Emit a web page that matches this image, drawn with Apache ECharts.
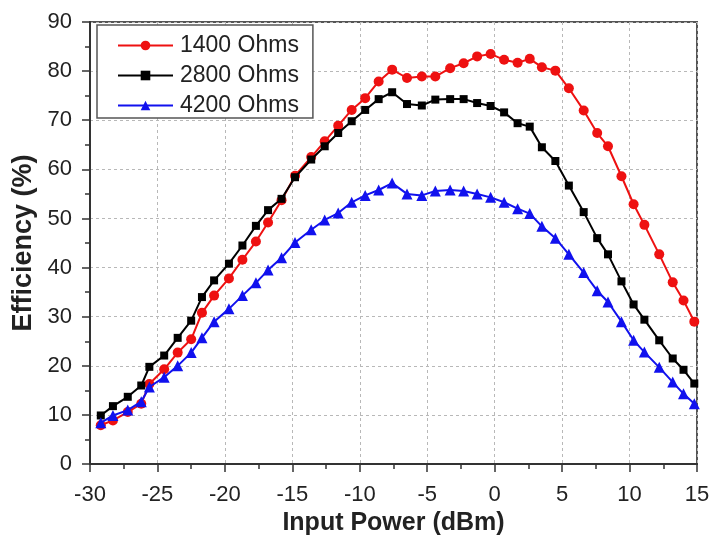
<!DOCTYPE html>
<html>
<head>
<meta charset="utf-8">
<script src="https://cdn.jsdelivr.net/npm/echarts@6/dist/echarts.min.js"></script>
<style>
html,body{margin:0;padding:0;background:#fff;}
#chart{width:713px;height:541px;}
</style>
</head>
<body>
<div id="chart"></div>
<script>
// Input power (dBm) sample positions shared by all three curves
var inputPower = [-29.2, -28.3, -27.2, -26.2, -25.6, -24.5, -23.5, -22.5, -21.7, -20.8,
  -19.7, -18.7, -17.7, -16.8, -15.8, -14.8, -13.6, -12.6, -11.6, -10.6,
  -9.6, -8.6, -7.6, -6.5, -5.4, -4.4, -3.3, -2.3, -1.3, -0.3,
  0.7, 1.7, 2.6, 3.5, 4.5, 5.5, 6.6, 7.6, 8.4, 9.4,
  10.3, 11.1, 12.2, 13.2, 14.0, 14.8];

var eff1400 = [7.9, 8.9, 10.6, 12.3, 16.3, 19.3, 22.7, 25.4, 30.8, 34.3,
  37.8, 41.6, 45.3, 49.2, 53.7, 58.7, 62.5, 65.7, 68.9, 72.1,
  74.5, 77.9, 80.3, 78.6, 78.9, 78.9, 80.6, 81.6, 83.0, 83.5,
  82.3, 81.7, 82.5, 80.8, 80.1, 76.5, 72.0, 67.4, 64.7, 58.6,
  52.9, 48.7, 42.7, 37.0, 33.3, 29.0];

var eff2800 = [9.9, 11.8, 13.7, 16.0, 19.8, 22.1, 25.7, 29.2, 34.0, 37.4,
  40.8, 44.5, 48.5, 51.7, 54.0, 58.4, 62.0, 64.7, 67.4, 69.8,
  72.1, 74.3, 75.7, 73.3, 73.0, 74.2, 74.3, 74.3, 73.5, 72.9,
  71.6, 69.4, 68.7, 64.5, 61.7, 56.7, 51.3, 46.0, 42.7, 37.2,
  32.5, 29.4, 25.2, 21.5, 19.2, 16.4];

var eff4200 = [8.4, 9.9, 11.0, 12.7, 15.7, 17.7, 20.0, 22.7, 25.7, 29.0,
  31.6, 34.3, 36.9, 39.5, 42.0, 45.1, 47.7, 49.7, 51.1, 53.3,
  54.7, 55.8, 57.2, 55.0, 54.7, 55.6, 55.8, 55.6, 55.0, 54.3,
  53.3, 52.0, 51.0, 48.4, 46.0, 42.7, 39.0, 35.3, 33.0, 29.0,
  25.2, 22.8, 19.7, 16.7, 14.3, 12.3];

var seriesNames = ['1400 Ohms', '2800 Ohms', '4200 Ohms'];

function pairs(ys) {
  return inputPower.map(function (x, i) { return [x, ys[i]]; });
}

var chart = echarts.init(document.getElementById('chart'), null, {renderer: 'canvas'});
var font = 'Liberation Sans, Arial, sans-serif';
var axisColor = '#333';

chart.setOption({
  animation: false,
  backgroundColor: '#fff',
  grid: {
    left: 90, right: 16, top: 22, bottom: 69,
    show: true, borderColor: '#555', borderWidth: 2, backgroundColor: 'transparent'
  },
  legend: {
    orient: 'vertical',
    left: 97, top: 25,
    data: seriesNames,
    itemWidth: 55, itemHeight: 12, itemGap: 7,
    padding: [9, 14, 1, 20],
    borderColor: '#555', borderWidth: 1.5,
    backgroundColor: '#fff',
    textStyle: {fontFamily: font, fontSize: 23, color: '#222', lineHeight: 22, padding: [0, 0, 0, 2]}
  },
  xAxis: {
    type: 'value', min: -30, max: 15, interval: 5,
    name: 'Input Power (dBm)', nameLocation: 'middle', nameGap: 46,
    nameTextStyle: {fontFamily: font, fontSize: 25, fontWeight: 'bold', color: '#222'},
    axisLine: {show: true, onZero: false, lineStyle: {color: axisColor, width: 2}},
    axisTick: {show: true, length: 8, lineStyle: {color: axisColor, width: 1.5}},
    minorTick: {show: true, splitNumber: 2, length: 5, lineStyle: {color: axisColor, width: 1.5}},
    axisLabel: {fontFamily: font, fontSize: 22, color: '#222', margin: 20},
    splitLine: {show: true, lineStyle: {color: '#b8b8b8', type: [3, 3], width: 1}}
  },
  yAxis: {
    type: 'value', min: 0, max: 90, interval: 10,
    name: 'Efficiency (%)', nameLocation: 'middle', nameGap: 53,
    nameTextStyle: {fontFamily: font, fontSize: 27, fontWeight: 'bold', color: '#222'},
    axisLine: {show: true, onZero: false, lineStyle: {color: axisColor, width: 2}},
    axisTick: {show: true, length: 8, lineStyle: {color: axisColor, width: 1.5}},
    minorTick: {show: true, splitNumber: 2, length: 5, lineStyle: {color: axisColor, width: 1.5}},
    axisLabel: {fontFamily: font, fontSize: 22, color: '#222', margin: 18},
    splitLine: {show: true, lineStyle: {color: '#b8b8b8', type: [3, 3], width: 1}}
  },
  series: [
    {
      name: seriesNames[0], type: 'line', data: pairs(eff1400),
      symbol: 'circle', symbolSize: 10, showAllSymbol: true,
      itemStyle: {color: '#ee1111'}, lineStyle: {color: '#ee1111', width: 2}, z: 3
    },
    {
      name: seriesNames[1], type: 'line', data: pairs(eff2800),
      symbol: 'rect', symbolSize: 8, showAllSymbol: true,
      itemStyle: {color: '#000'}, lineStyle: {color: '#000', width: 2}, z: 4
    },
    {
      name: seriesNames[2], type: 'line', data: pairs(eff4200),
      symbol: 'triangle', symbolSize: 11, showAllSymbol: true,
      itemStyle: {color: '#1111ee'}, lineStyle: {color: '#1111ee', width: 2}, z: 5
    }
  ]
});
</script>
</body>
</html>
